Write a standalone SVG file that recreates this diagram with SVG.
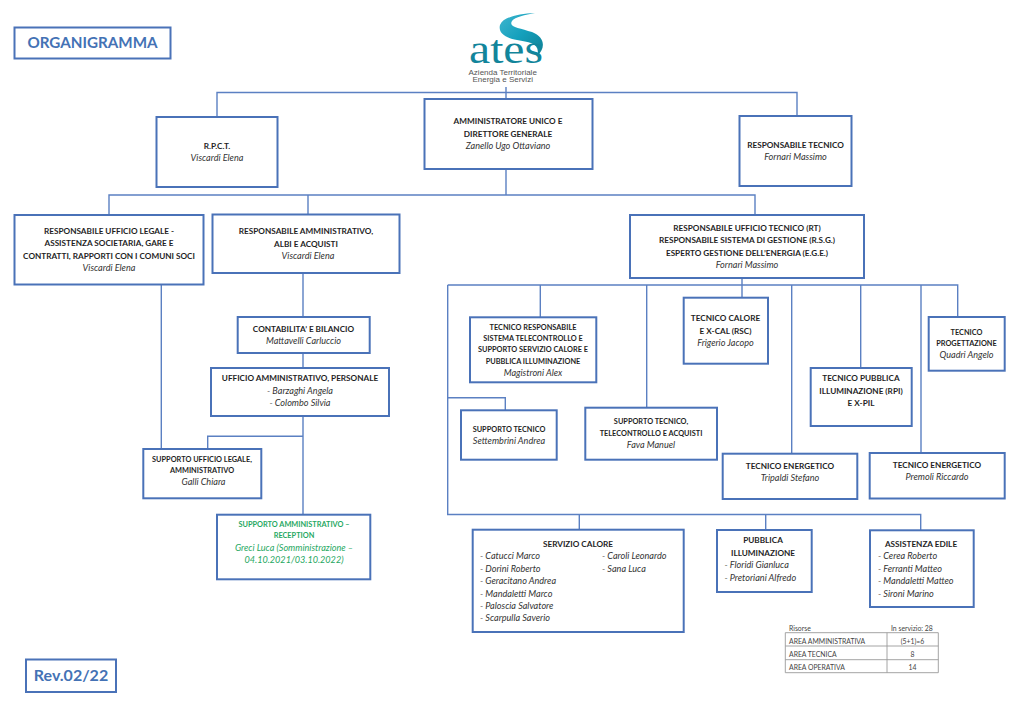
<svg xmlns="http://www.w3.org/2000/svg" width="1024" height="724" viewBox="0 0 1024 724">
<style>
text{font-family:"Lato","Liberation Sans",sans-serif;font-size:8.2px;fill:#1f1f1f;text-anchor:middle}
.b{font-weight:700}
.i{font-style:italic;fill:#333;font-size:9.1px}
.s{font-size:7.35px}
.l{text-anchor:start}
.g{fill:#1fa862}
.box{fill:#fff;stroke:#4a72b8;stroke-width:2}
.big{font-weight:700;font-size:15.2px;fill:#4472b5}
.t{font-size:6.85px;fill:#444}
#connectors path{fill:none;stroke:#5b80c2;stroke-width:1.4}
#table path{fill:none;stroke:#9a9a9a;stroke-width:.9}
</style>
<defs><linearGradient id="sw" x1="0" y1="0" x2="1" y2="1"><stop offset="0" stop-color="#3fb6cf"/><stop offset=".5" stop-color="#14a0bc"/><stop offset="1" stop-color="#0f7f93"/></linearGradient></defs>
<rect width="1024" height="724" fill="#fff"/>
<g id="connectors">
<path d="M506 87V99M217 117V92.500H797V116"/>
<path d="M506 169V195M109 215V195H755V215M308 195V214.500"/>
<path d="M161.300 284V449M303 273V317M303 353V368M303 416V514.700M207.700 449V436.300H303"/>
<path d="M742 278V297.700M447.700 285H957.700V317M540.300 285V317M646.700 285V407.700M791.700 285V453.700M860.700 285V368M921 285V453"/>
<path d="M447.700 285V514.500H920.700V530.300M447.700 397.700H505.300V410.300M579.300 514.500V529.700M765.700 514.500V530"/>
</g>
<g id="title"><rect class="box" x="14.500" y="27.500" width="156" height="31"/><text class="big" x="92.500" y="47.500">ORGANIGRAMMA</text></g>
<g id="logo">
<path fill="url(#sw)" d="M535 13C518 14 503 17 500 25C498 33 505 38 517 40C530 42 541 44 537 56C546 48 545 37 532 32C520 28 508 27 512 21C515 17 525 15 535 13Z"/>
<text x="469" y="63" textLength="74" lengthAdjust="spacingAndGlyphs" style="font-family:'Liberation Serif',serif;font-size:40px;fill:#12859b;text-anchor:start">ates</text>
<text x="502.700" y="75" style="font-family:'Liberation Sans',sans-serif;font-size:8px;fill:#555">Azienda Territoriale</text>
<text x="502.700" y="82" style="font-family:'Liberation Sans',sans-serif;font-size:8px;fill:#555">Energia e Servizi</text>
</g>
<g id="rpct"><rect class="box" x="156.500" y="117" width="121" height="70"/><text class="b" x="217" y="149">R.P.C.T.</text><text class="i" x="217" y="161">Viscardi Elena</text></g>
<g id="amministratore"><rect class="box" x="424.500" y="99" width="168" height="70"/><text class="b" x="508" y="124">AMMINISTRATORE UNICO E</text><text class="b" x="508" y="137">DIRETTORE GENERALE</text><text class="i" x="508" y="149">Zanello Ugo Ottaviano</text></g>
<g id="resp-tecnico"><rect class="box" x="739.500" y="116" width="112" height="70"/><text class="b" x="795.500" y="148">RESPONSABILE TECNICO</text><text class="i" x="795.500" y="160">Fornari Massimo</text></g>
<g id="resp-legale"><rect class="box" x="14.500" y="215" width="189" height="69.500"/><text class="b" x="109" y="234">RESPONSABILE UFFICIO LEGALE -</text><text class="b" x="109" y="246">ASSISTENZA SOCIETARIA, GARE E</text><text class="b" x="109" y="258.500">CONTRATTI, RAPPORTI CON I COMUNI SOCI</text><text class="i" x="109" y="271">Viscardi Elena</text></g>
<g id="resp-amm"><rect class="box" x="212.500" y="214.500" width="187" height="58.500"/><text class="b" x="306" y="234">RESPONSABILE AMMINISTRATIVO,</text><text class="b" x="306" y="247">ALBI E ACQUISTI</text><text class="i" x="308" y="259">Viscardi Elena</text></g>
<g id="resp-ut"><rect class="box" x="630" y="215" width="234" height="63"/><text class="b" x="747" y="231">RESPONSABILE UFFICIO TECNICO (RT)</text><text class="b" x="747" y="243">RESPONSABILE SISTEMA DI GESTIONE (R.S.G.)</text><text class="b" x="747" y="256">ESPERTO GESTIONE DELL’ENERGIA (E.G.E.)</text><text class="i" x="747" y="268">Fornari Massimo</text></g>
<g id="contabilita"><rect class="box" x="237.700" y="317" width="132" height="36"/><text class="b" x="303.500" y="332">CONTABILITA’ E BILANCIO</text><text class="i" x="303.500" y="344">Mattavelli Carluccio</text></g>
<g id="ufficio-amm"><rect class="box" x="211" y="368" width="178" height="48"/><text class="b" x="300" y="381">UFFICIO AMMINISTRATIVO, PERSONALE</text><text class="i" x="300" y="393.500">- Barzaghi Angela</text><text class="i" x="300" y="406">- Colombo Silvia</text></g>
<g id="supporto-legale"><rect class="box" x="143.300" y="449" width="118" height="49.300"/><text class="b s" x="202" y="461.500">SUPPORTO UFFICIO LEGALE,</text><text class="b s" x="202" y="472.500">AMMINISTRATIVO</text><text class="i" x="203.500" y="484.500">Galli Chiara</text></g>
<g id="supporto-amm"><rect class="box" x="217" y="514.700" width="153.300" height="64.600"/><text class="b s g" x="294" y="527">SUPPORTO AMMINISTRATIVO –</text><text class="b s g" x="294" y="538">RECEPTION</text><text class="i g" x="294" y="550.500">Greci Luca (Somministrazione –</text><text class="i g" x="294" y="563">04.10.2021/03.10.2022)</text></g>
<g id="tecnico-resp"><rect class="box" x="470" y="317.300" width="126.300" height="65"/><text class="b s" x="533" y="329.500">TECNICO RESPONSABILE</text><text class="b s" x="533" y="340.500">SISTEMA TELECONTROLLO E</text><text class="b s" x="533" y="352">SUPPORTO SERVIZIO CALORE E</text><text class="b s" x="533" y="363.500">PUBBLICA ILLUMINAZIONE</text><text class="i" x="533" y="375.500">Magistroni Alex</text></g>
<g id="tecnico-calore"><rect class="box" x="683.700" y="297.700" width="84.300" height="66"/><text class="b" x="725.500" y="321">TECNICO CALORE</text><text class="b" x="725.500" y="333.500">E X-CAL (RSC)</text><text class="i" x="725.500" y="346">Frigerio Jacopo</text></g>
<g id="progettazione"><rect class="box" x="928.700" y="317" width="76" height="53.700"/><text class="b s" x="966.500" y="334.500">TECNICO</text><text class="b s" x="966.500" y="346">PROGETTAZIONE</text><text class="i" x="966.500" y="358">Quadri Angelo</text></g>
<g id="tecnico-pil"><rect class="box" x="810.700" y="368" width="101" height="58"/><text class="b" x="861" y="381">TECNICO PUBBLICA</text><text class="b" x="861" y="393.500">ILLUMINAZIONE (RPI)</text><text class="b" x="861" y="406">E X-PIL</text></g>
<g id="supporto-tecnico"><rect class="box" x="461" y="410.300" width="95.700" height="49.400"/><text class="b s" x="509" y="431.500">SUPPORTO TECNICO</text><text class="i" x="509" y="443.500">Settembrini Andrea</text></g>
<g id="supporto-tele"><rect class="box" x="585.300" y="407.700" width="131.700" height="52"/><text class="b s" x="651" y="424">SUPPORTO TECNICO,</text><text class="b s" x="651" y="436">TELECONTROLLO E ACQUISTI</text><text class="i" x="651" y="448">Fava Manuel</text></g>
<g id="energetico-1"><rect class="box" x="722.700" y="453.700" width="134.600" height="45.300"/><text class="b" x="790" y="468.500">TECNICO ENERGETICO</text><text class="i" x="790" y="481">Tripaldi Stefano</text></g>
<g id="energetico-2"><rect class="box" x="869.700" y="453" width="135" height="45.500"/><text class="b" x="937" y="467.500">TECNICO ENERGETICO</text><text class="i" x="937" y="480">Premoli Riccardo</text></g>
<g id="servizio-calore"><rect class="box" x="472.700" y="529.700" width="211" height="102.300"/><text class="b" x="578" y="546.500">SERVIZIO CALORE</text>
<text class="i l" x="480" y="559">- Catucci Marco</text><text class="i l" x="480" y="571.500">- Dorini Roberto</text><text class="i l" x="480" y="584">- Geracitano Andrea</text><text class="i l" x="480" y="596.500">- Mandaletti Marco</text><text class="i l" x="480" y="609">- Paloscia Salvatore</text><text class="i l" x="480" y="621">- Scarpulla Saverio</text><text class="i l" x="602" y="559">- Caroli Leonardo</text><text class="i l" x="602" y="571.500">- Sana Luca</text></g>
<g id="pubblica"><rect class="box" x="717" y="530" width="94.700" height="62"/><text class="b" x="763" y="543">PUBBLICA</text><text class="b" x="763" y="556">ILLUMINAZIONE</text><text class="i l" x="724.500" y="568">- Floridi Gianluca</text><text class="i l" x="724.500" y="580.500">- Pretoriani Alfredo</text></g>
<g id="assistenza"><rect class="box" x="870" y="530.300" width="103.700" height="76.700"/><text class="b" x="921" y="546.500">ASSISTENZA EDILE</text><text class="i l" x="878" y="559">- Cerea Roberto</text><text class="i l" x="878" y="571.500">- Ferranti Matteo</text><text class="i l" x="878" y="584">- Mandaletti Matteo</text><text class="i l" x="878" y="596.500">- Sironi Marino</text></g>
<g id="table"><path d="M785.300 632.700H938.300V672.700H785.300ZM785.300 646H938.300M785.300 659.700H938.300M887 632.700V672.700"/>
<text class="t l" x="789" y="631">Risorse</text><text class="t l" x="891" y="631">In servizio: 28</text>
<text class="t l" x="789" y="644">AREA AMMINISTRATIVA</text><text class="t" x="912.500" y="644">(5+1)=6</text>
<text class="t l" x="789" y="657">AREA TECNICA</text><text class="t" x="912.500" y="657">8</text>
<text class="t l" x="789" y="670">AREA OPERATIVA</text><text class="t" x="912.500" y="670">14</text></g>
<g id="rev"><rect class="box" x="26" y="659.500" width="90" height="32.500"/><text class="big" x="71" y="680.500" style="font-size:16px">Rev.02/22</text></g>
</svg>
